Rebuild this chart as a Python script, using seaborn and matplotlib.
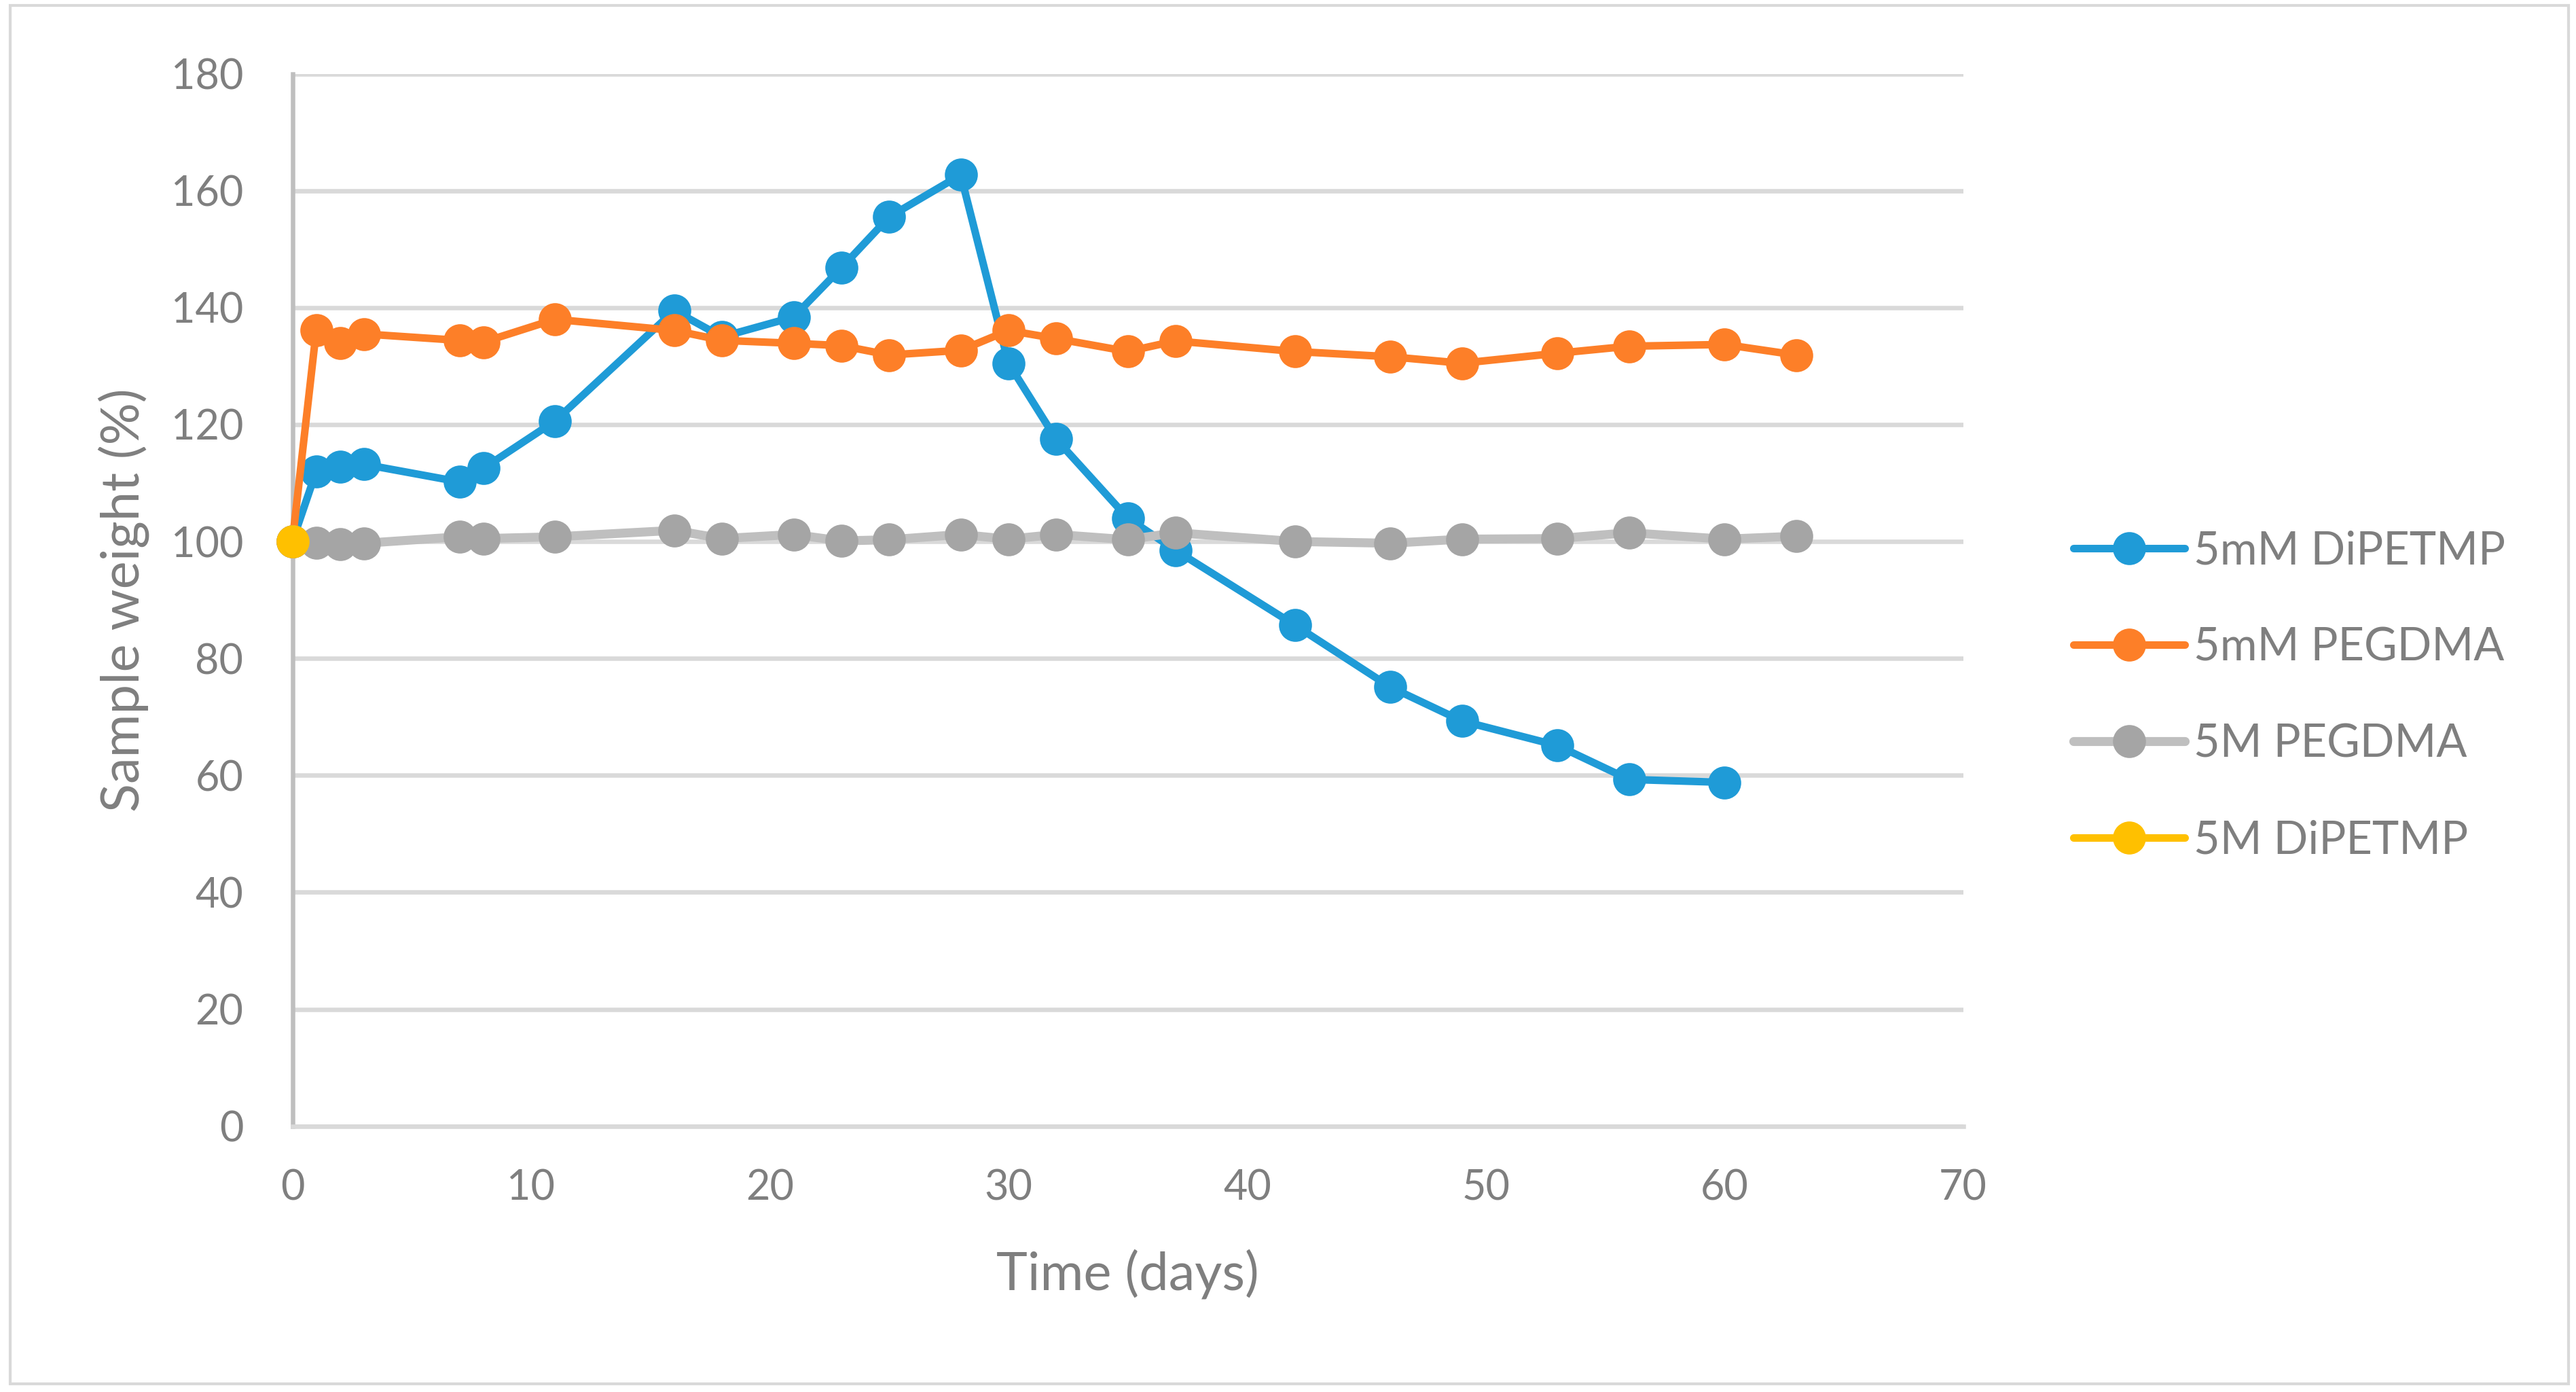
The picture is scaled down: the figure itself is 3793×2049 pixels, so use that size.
import matplotlib
matplotlib.use("Agg")
import matplotlib.pyplot as plt
import numpy as np
import pandas as pd
import seaborn as sns
from matplotlib.patches import Rectangle

# day of measurement and sample weight (%) for each formulation
days_dipetmp_5mm = [0, 1, 2, 3, 7, 8, 11, 16, 18, 21, 23, 25, 28, 30, 32, 35, 37, 42, 46, 49, 53, 56, 60]
weight_dipetmp_5mm = [100, 112.0, 112.8, 113.2, 110.2, 112.5, 120.6, 139.5, 135.0, 138.4, 146.8, 155.5,
                      162.7, 130.5, 117.5, 104.0, 98.5, 85.7, 75.1, 69.3, 65.1, 59.3, 58.8]

days_pegdma_5mm = [0, 1, 2, 3, 7, 8, 11, 16, 18, 21, 23, 25, 28, 30, 32, 35, 37, 42, 46, 49, 53, 56, 60, 63]
weight_pegdma_5mm = [100, 136.1, 133.9, 135.5, 134.4, 134.1, 138.0, 136.1, 134.4, 133.9, 133.5, 131.9,
                     132.7, 136.1, 134.7, 132.5, 134.3, 132.5, 131.6, 130.5, 132.2, 133.4, 133.7, 131.9]

days_pegdma_5m = [0, 1, 2, 3, 7, 8, 11, 16, 18, 21, 23, 25, 28, 30, 32, 35, 37, 42, 46, 49, 53, 56, 60, 63]
weight_pegdma_5m = [100, 99.8, 99.5, 99.7, 100.8, 100.5, 100.8, 101.9, 100.5, 101.2, 100.1, 100.3,
                    101.2, 100.4, 101.2, 100.3, 101.5, 100.0, 99.7, 100.4, 100.5, 101.5, 100.4, 100.9]

days_dipetmp_5m = [0]
weight_dipetmp_5m = [100]

series_names = ["5mM DiPETMP", "5mM PEGDMA", "5M PEGDMA", "5M DiPETMP"]
line_colors = ["#1F9BD7", "#FD7F28", "#BFBFBF", "#FFC000"]
marker_colors = ["#1F9BD7", "#FD7F28", "#A5A5A5", "#FFC000"]
text_color = "#7F7F7F"

frames = []
for name, d, w in zip(
    series_names,
    [days_dipetmp_5mm, days_pegdma_5mm, days_pegdma_5m, days_dipetmp_5m],
    [weight_dipetmp_5mm, weight_pegdma_5mm, weight_pegdma_5m, weight_dipetmp_5m],
):
    frames.append(pd.DataFrame({"day": d, "weight": w, "series": name}))
data = pd.concat(frames, ignore_index=True)

sns.set_theme(style="white")
plt.rcParams["font.family"] = ["Lato", "DejaVu Sans"]

fig = plt.figure(figsize=(37.93, 20.49), dpi=100)
ax = fig.add_axes([0.1135, 0.191, 0.6486, 0.756])

for i, name in enumerate(series_names):
    sub = data[data["series"] == name]
    sns.lineplot(
        data=sub, x="day", y="weight", ax=ax, label=name,
        color=line_colors[i], linewidth=8 if i != 2 else 9.5,
        marker="o", markersize=35, markerfacecolor=marker_colors[i],
        markeredgewidth=0, zorder=3 + i, sort=False, estimator=None,
        clip_on=False,
    )

ax.set_xlim(0, 70)
ax.set_ylim(0, 180)
ax.set_xticks(np.arange(0, 71, 10))
ax.set_yticks(np.arange(0, 181, 20))
ax.yaxis.grid(True, color="#D9D9D9", linewidth=4.7)
ax.xaxis.grid(False)
ax.set_axisbelow(True)
for side in ["top", "right"]:
    ax.spines[side].set_visible(False)
ax.spines["left"].set_color("#BFBFBF")
ax.spines["left"].set_linewidth(4.7)
ax.spines["bottom"].set_color("#D9D9D9")
ax.spines["bottom"].set_linewidth(4.7)
ax.tick_params(axis="both", length=0, labelsize=44, labelcolor=text_color)
ax.tick_params(axis="y", pad=52)
ax.tick_params(axis="x", pad=45)

ax.set_xlabel("Time (days)", fontsize=56, color=text_color)
ax.set_ylabel("Sample weight (%)", fontsize=56, color=text_color)
ax.xaxis.set_label_coords(0.5, -0.141)
ax.xaxis.label.set_va("center")
ax.yaxis.set_label_coords(-0.101, 0.5)
ax.yaxis.label.set_va("center")

leg = ax.legend(
    loc="center left", bbox_to_anchor=(0.798, 0.5), bbox_transform=fig.transFigure,
    frameon=False, fontsize=48, handlelength=2.45, handletextpad=0.2, labelspacing=1.2,
    borderaxespad=0,
)
for t in leg.get_texts():
    t.set_color(text_color)

fig.patches.append(Rectangle((0.004, 0.006), 0.993, 0.99, transform=fig.transFigure,
                             fill=False, edgecolor="#D9D9D9", linewidth=3))

fig.savefig("out.png", dpi=100, facecolor="white")
